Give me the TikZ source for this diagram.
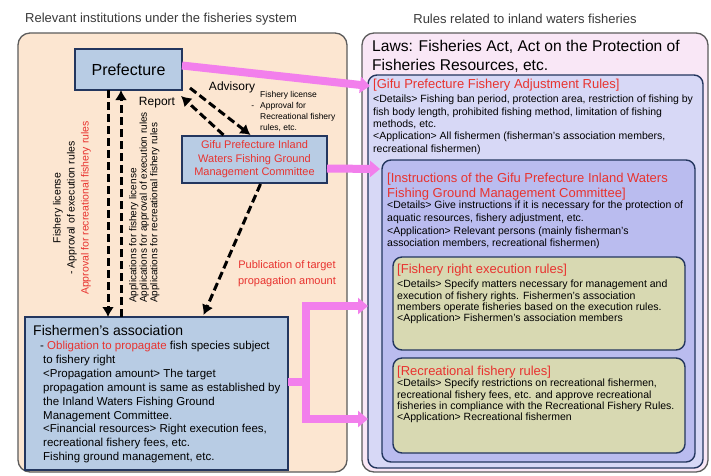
\documentclass[tikz,border=0pt]{standalone}
\usepackage{fontspec}
\setmainfont{Liberation Sans}
\usetikzlibrary{arrows.meta,calc}
\definecolor{peach}{HTML}{FCE6D1}
\definecolor{pinkpanel}{HTML}{F9E7F6}
\definecolor{lavone}{HTML}{D7D8F6}
\definecolor{lavtwo}{HTML}{BABCEF}
\definecolor{khaki}{HTML}{D8D9B2}
\definecolor{boxblue}{HTML}{B8CCE4}
\definecolor{navy}{HTML}{23365E}
\definecolor{panelgrey}{HTML}{5C5C5C}
\definecolor{pinkarr}{HTML}{F27FEC}
\definecolor{redtxt}{HTML}{E8332F}
\definecolor{titlegrey}{HTML}{3A3A3A}
\newcommand\fsz[2]{\fontsize{#1}{#2}\selectfont}
\begin{document}
\begin{tikzpicture}[x=1pt,y=-1pt,
  panel/.style={draw=panelgrey,line width=1.3pt,rounded corners=12pt,inner sep=0pt,outer sep=0pt},
  bluebox/.style={draw=navy,line width=1.6pt,fill=boxblue,inner sep=0pt,outer sep=0pt},
  rulebox/.style={draw=navy,line width=1.4pt,rounded corners=9pt,inner sep=0pt,outer sep=0pt},
  dasharrow/.style={line width=3pt,dash pattern=on 8pt off 4pt,-{Latex[length=10pt,width=12pt]}},
  pinkbar/.style={draw=pinkarr,line width=8pt},
  pinkarrow/.style={draw=pinkarr,line width=8pt,-{Triangle[length=10pt,width=16pt]}},
  txt/.style={inner sep=0pt,anchor=north west,align=left},
  ttl/.style={font=\fsz{13}{14.5},text=redtxt},
  body/.style={font=\fsz{10.5}{11.3}},
]
\useasboundingbox (0,0) rectangle (711,475);
\fill[white] (0,0) rectangle (711,475);

% titles
\node[anchor=west,inner sep=0pt,text=titlegrey,font=\fsz{13}{15}] (ltitle) at (25,19) {Relevant institutions under the fisheries system};
\node[inner sep=0pt,text=titlegrey,font=\fsz{13}{15}] (rtitle) at (525,19) {Rules related to inland waters fisheries};

% panels and rule boxes
\node[panel,fill=peach,minimum width=329pt,minimum height=439pt] (lpanel) at (182.5,252.5) {};
\node[panel,fill=pinkpanel,minimum width=346pt,minimum height=439pt] (rpanel) at (535,252.5) {};
\node[rulebox,fill=lavone,minimum width=335pt,minimum height=393pt] (box1) at (535.5,271.5) {};
\node[rulebox,fill=lavtwo,minimum width=313pt,minimum height=302pt] (box2) at (538.5,311) {};
\node[rulebox,fill=khaki,minimum width=292pt,minimum height=93pt] (box3) at (539,303.5) {};
\node[rulebox,fill=khaki,minimum width=292pt,minimum height=95pt] (box4) at (539,405.5) {};

% institution boxes
\node[bluebox,minimum width=107pt,minimum height=41pt,font=\fsz{16}{18}] (pref) at (128.5,69.5) {Prefecture};
\node[bluebox,minimum width=145pt,minimum height=47pt,align=center,text=redtxt,font=\fsz{11}{13.5}] (comm) at (254.5,159.5) {Gifu Prefecture Inland\\Waters Fishing Ground\\Management Committee};
\node[bluebox,minimum width=263pt,minimum height=153pt] (fisher) at (156.5,393.5) {};

% right texts
\node[txt,font=\fsz{15.6}{19}] (laws) at (372,40) {Laws: Fisheries Act, Act on the Protection of\\Fisheries Resources, etc.};
\node[txt,ttl] (t1) at (373,79) {[Gifu Prefecture Fishery Adjustment Rules]};
\node[txt,font=\fsz{10.5}{12.3}] (b1) at (373,95) {<Details> Fishing ban period, protection area, restriction of fishing by\\fish body length, prohibited fishing method, limitation of fishing\\methods, etc.\\<Application> All fishermen (fisherman's association members,\\recreational fishermen)};
\node[txt,ttl] (t2) at (387,173) {[Instructions of the Gifu Prefecture Inland Waters\\Fishing Ground Management Committee]};
\node[txt,font=\fsz{10.5}{12.6}] (b2) at (387,201) {<Details> Give instructions if it is necessary for the protection of\\aquatic resources, fishery adjustment, etc.\\<Application> Relevant persons (mainly fisherman's\\association members, recreational fishermen)};
\node[txt,ttl] (t3) at (397,264) {[Fishery right execution rules]};
\node[txt,body] (b3) at (397,280) {<Details> Specify matters necessary for management and\\execution of fishery rights. Fishermen's association\\members operate fisheries based on the execution rules.\\<Application> Fishermen's association members};
\node[txt,ttl] (t4) at (397,366) {[Recreational fishery rules]};
\node[txt,body] (b4) at (397,379) {<Details> Specify restrictions on recreational fishermen,\\recreational fishery fees, etc. and approve recreational\\fisheries in compliance with the Recreational Fishery Rules.\\<Application> Recreational fishermen};

% fishermen's association text
\node[txt,font=\fsz{14}{16}] (ftitle) at (33,325) {Fishermen's association};
\node[txt,font=\fsz{11.5}{13.9}] (fbody) at (43,341) {\hspace*{-3pt}- \textcolor{redtxt}{Obligation to propagate} fish species subject\\to fishery right\\<Propagation amount> The target\\propagation amount is same as established by\\the Inland Waters Fishing Ground\\Management Committee.\\<Financial resources> Right execution fees,\\recreational fishery fees, etc.\\Fishing ground management, etc.};

% labels on the left
\node[inner sep=0pt,font=\fsz{12}{14}] (adv) at (232,87) {Advisory};
\node[txt,font=\fsz{8.5}{11}] (advnote) at (260,91) {Fishery license\\\llap{-\hspace{6pt}}Approval for\\Recreational fishery\\rules, etc.};
\node[inner sep=0pt,font=\fsz{12}{14}] (rep) at (157,103) {Report};
\node[inner sep=0pt,align=center,text=redtxt,font=\fsz{11}{16}] (pub) at (287,274) {Publication of target\\propagation amount};
\node[rotate=90,align=center,inner sep=0pt,font=\fsz{10.5}{14}] (lrot) at (72,208) {Fishery license\\- Approval of execution rules\\\textcolor{redtxt}{Approval for recreational fishery rules}};
\node[rotate=90,anchor=north west,align=left,inner sep=0pt,font=\fsz{10}{10.5}] (rrot) at (129,303) {Applications for fishery license\\Applications for approval of execution rules\\Applications for recreational fishery rules};

% dashed black arrows
\draw[dasharrow] ([xshift=-20.5pt]pref.south) -- ([xshift=-48.5pt]fisher.north);
\draw[dasharrow] ([xshift=-35.5pt]fisher.north) -- ([xshift=-7.5pt]pref.south);
\draw[dasharrow] ($(pref.south east)+(8,-2)$) -- ($(comm.north)+(-4,-1)$);
\draw[dasharrow] ($(comm.north)+(-31,-1)$) -- ($(pref.south east)+(-1,6)$);
\draw[dasharrow] ($(comm.south)+(6,1)$) -- ($(fisher.north)+(47,-2)$);

% pink connectors
\draw[pinkarrow] ([yshift=4pt]pref.east) -- ($(box1.north west)+(2,11)$);
\draw[pinkarrow] ([yshift=-9pt]comm.east) -- ($(box2.north west)+(-2,9)$);
\coordinate (fj) at (306,382);
\draw[pinkbar] ([yshift=11.5pt]fisher.east) -- (fj);
\draw[pinkarrow] (fj) |- (box1.west |- 0,306);
\draw[pinkarrow] (fj) |- (box1.west |- 0,419);
\end{tikzpicture}
\end{document}
